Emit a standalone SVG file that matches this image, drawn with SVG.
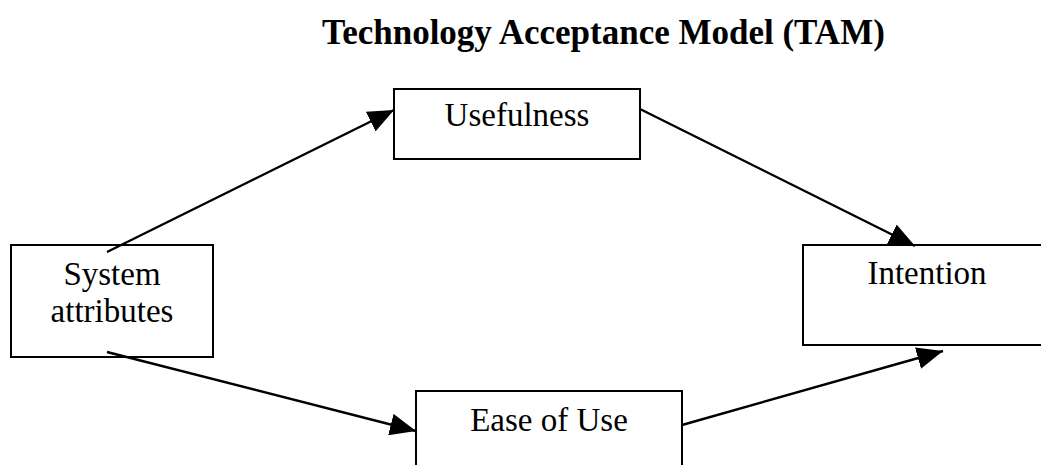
<svg xmlns="http://www.w3.org/2000/svg" width="1041" height="465" viewBox="0 0 1041 465">
<style>
.box{fill:#fff;stroke:#000;stroke-width:2}
.lbl{font-family:"Liberation Serif","Times New Roman",serif;font-size:33px;fill:#000;text-anchor:middle}
.title{font-family:"Liberation Serif","Times New Roman",serif;font-size:35px;font-weight:bold;fill:#000}
.edge{stroke:#000;stroke-width:2.4;fill:none;marker-end:url(#arr)}
</style>
<defs>
<marker id="arr" markerUnits="userSpaceOnUse" markerWidth="27" markerHeight="22" refX="26" refY="11" orient="auto">
<path d="M0,0 L26,11 L0,22 z" fill="#000"/>
</marker>
</defs>
<rect width="1041" height="465" fill="#fff"/>
<text class="title" x="322" y="44">Technology Acceptance Model (TAM)</text>
<g id="node-usefulness">
<rect class="box" x="394" y="89" width="246" height="70"/>
<text class="lbl" x="517" y="126">Usefulness</text>
</g>
<g id="node-system">
<rect class="box" x="11" y="245" width="202" height="112"/>
<text class="lbl" x="112" y="285">System</text>
<text class="lbl" x="112" y="322">attributes</text>
</g>
<g id="node-intention">
<rect class="box" x="803" y="245" width="250" height="100"/>
<text class="lbl" x="927" y="284">Intention</text>
</g>
<g id="node-ease">
<rect class="box" x="416" y="391" width="266" height="90"/>
<text class="lbl" x="549" y="431">Ease of Use</text>
</g>
<g id="connectors">
<line class="edge" x1="107" y1="252" x2="394" y2="110"/>
<line class="edge" x1="640" y1="109" x2="915" y2="246"/>
<line class="edge" x1="107" y1="352" x2="416" y2="431"/>
<line class="edge" x1="682" y1="425" x2="943" y2="351"/>
</g>
</svg>
